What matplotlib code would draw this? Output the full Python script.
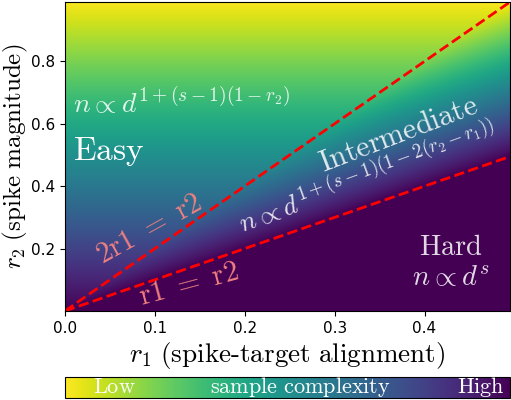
import numpy as np
import matplotlib
matplotlib.use("Agg")
import matplotlib.pyplot as plt

plt.rcParams['mathtext.fontset'] = 'cm'

# model parameter and grid of (r1, r2)
s = 3.0
r1_max = 0.495
r2_max = 0.99
r1 = np.linspace(0, r1_max, 200)
r2 = np.linspace(0, r2_max, 400)
R1, R2 = np.meshgrid(r1, r2)

# sample complexity exponent per regime
easy = 1 + (s - 1) * (1 - R2)
inter = 1 + (s - 1) * (1 - 2 * (R2 - R1))
hard = np.full_like(R1, s)
expo = np.where(R2 >= 2 * R1, easy, np.where(R2 >= R1, inter, hard))

fig = plt.figure(figsize=(5.11, 4.0), dpi=100)
ax = fig.add_axes([0.127, 0.2225, 0.871, 0.7725])
cax = fig.add_axes([0.127, 0.006, 0.871, 0.052])

im = ax.imshow(expo, origin='lower', extent=[0, r1_max, 0, r2_max],
               aspect='auto', cmap='viridis_r', vmin=1, vmax=s,
               interpolation='bilinear')

ax.plot(r1, 2 * r1, 'r--', lw=2)
ax.plot(r1, r1, 'r--', lw=2)
ax.set_xlim(0, r1_max)
ax.set_ylim(0, r2_max)
ax.set_xticks([0.0, 0.1, 0.2, 0.3, 0.4])
ax.set_yticks([0.2, 0.4, 0.6, 0.8])
ax.tick_params(labelsize=11)
ax.set_xlabel(r'$r_1\ \mathrm{(spike\text{-}target\ alignment)}$', fontsize=19.5,
              labelpad=3)
ax.set_ylabel(r'$r_2\ \mathrm{(spike\ magnitude)}$', fontsize=18, labelpad=1)

light = (1, 1, 1, 0.85)
ax.text(0.009, 0.665, r'$n \propto d^{1+(s-1)(1-r_2)}$', color=light,
        fontsize=20, va='center', ha='left')
ax.text(0.009, 0.51, r'$\mathrm{Easy}$', color='white', fontsize=24,
        va='center', ha='left')
ax.text(0.371, 0.567, r'$\mathrm{Intermediate}$', color=light, fontsize=21.5,
        rotation=21, ha='center', va='center')
ax.text(0.337, 0.428, r'$n \propto d^{1+(s-1)(1-2(r_2-r_1))}$', color=light,
        fontsize=19.5, rotation=20, ha='center', va='center')
ax.text(0.094, 0.262, r'$\mathrm{2r1\ =\ r2}$', color='lightcoral',
        fontsize=21, rotation=29, ha='center', va='center')
ax.text(0.138, 0.086, r'$\mathrm{r1\ =\ r2}$', color='lightcoral',
        fontsize=21, rotation=15, ha='center', va='center')
ax.text(0.429, 0.205, r'$\mathrm{Hard}$', color=light, fontsize=20.5,
        ha='center', va='center')
ax.text(0.429, 0.11, r'$n \propto d^s$', color=light, fontsize=20.5,
        ha='center', va='center')

cb = fig.colorbar(im, cax=cax, orientation='horizontal')
cb.set_ticks([])
cax.text(0.111, 0.5, r'$\mathrm{Low}$', color='white', fontsize=16,
         transform=cax.transAxes, ha='center', va='center')
cax.text(0.528, 0.5, r'$\mathrm{sample\ complexity}$', color='white',
         fontsize=16, transform=cax.transAxes, ha='center', va='center')
cax.text(0.935, 0.5, r'$\mathrm{High}$', color='white', fontsize=16,
         transform=cax.transAxes, ha='center', va='center')

fig.savefig('out.png', dpi=100)
